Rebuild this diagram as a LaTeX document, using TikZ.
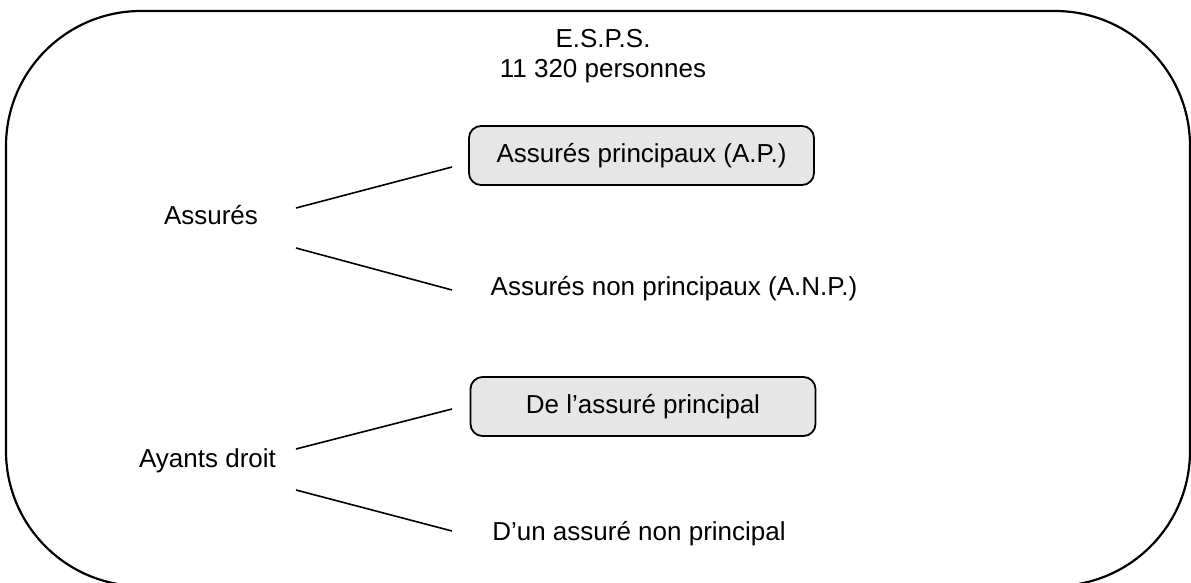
\documentclass[tikz,border=0pt]{standalone}
\usepackage{fontspec}
\setmainfont{Liberation Sans}
\begin{document}
\begin{tikzpicture}[x=1pt,y=-1pt,
  every node/.style={font=\fontsize{26}{32}\selectfont, inner sep=0pt},
  lbl/.style={anchor=base},
  graybox/.style={draw, line width=1.8pt, rounded corners=12pt, fill={rgb,255:red,230;green,230;blue,230}, minimum width=345pt, minimum height=59pt},
  conn/.style={line width=1.6pt}]
\useasboundingbox (0,0) rectangle (1191,582);
\draw[line width=2.2pt, rounded corners=135pt] (6,11) rectangle (1190,586);
\node[lbl] (espsa) at (603,47) {E.S.P.S.};
\node[lbl] (espsb) at (603,77) {11 320 personnes};
\node[lbl] (ass) at (211,224) {Assurés};
\node[graybox] (ap) at (641.5,155.5) {Assurés principaux (A.P.)};
\node[lbl] (anp) at (674,295) {Assurés non principaux (A.N.P.)};
\node[lbl] (ay) at (207.5,467) {Ayants droit};
\node[graybox] (de) at (643,406.5) {De l’assuré principal};
\node[lbl] (dun) at (639,540) {D’un assuré non principal};
\coordinate (c1a) at (296,208); \coordinate (c1b) at (452,167);
\coordinate (c2a) at (296,248); \coordinate (c2b) at (452,290);
\coordinate (c3a) at (296,449); \coordinate (c3b) at (452,409);
\coordinate (c4a) at (296,490); \coordinate (c4b) at (452,531);
\draw[conn] (c1a) -- (c1b);
\draw[conn] (c2a) -- (c2b);
\draw[conn] (c3a) -- (c3b);
\draw[conn] (c4a) -- (c4b);
\end{tikzpicture}
\end{document}
